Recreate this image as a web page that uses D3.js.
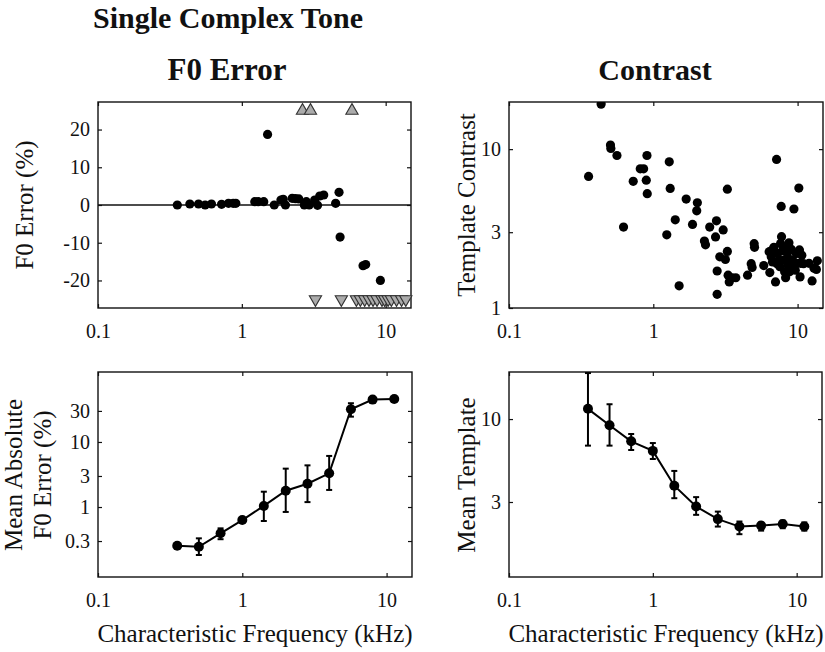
<!DOCTYPE html>
<html>
<head>
<meta charset="utf-8">
<script src="https://cdn.jsdelivr.net/npm/d3@7"></script>
<style>
  body { margin: 0; background: #fff; }
  text { font-family: "Liberation Serif", "DejaVu Serif", serif; fill: #111; }
</style>
</head>
<body>
<svg id="chart" width="825" height="652"></svg>
<script>
// ---- data ----
// top left: F0 error per unit
var errCF = [0.356, 0.435, 0.50, 0.556, 0.615, 0.723, 0.808, 0.871, 0.908, 1.23, 1.30, 1.42, 1.51, 1.68,
             1.87, 1.94, 2.01, 2.24, 2.36, 2.49, 2.72, 2.81, 2.94, 3.21, 3.36, 3.48, 3.71, 4.49, 4.74, 4.82,
             6.96, 7.26, 9.19]
var errVal = [0, 0.27, 0.27, 0, 0.27, 0.18, 0.44, 0.44, 0.44, 0.88, 0.88, 0.88, 18.7, 0,
              1.33, 1.5, 0, 1.77, 1.68, 1.6, 0, 0.88, 0, 1.33, -0.09, 2.39, 2.65, 0.44, 3.36, -8.5,
              -16.1, -15.8, -20.0]
// units whose error is off the scale (plotted as triangles at the edge)
var overCF = [2.64, 3.0, 5.83]
var underCF = [3.25, 4.92, 6.26, 6.67, 7.15, 7.66, 8.17, 8.71, 9.43, 9.84, 10.4, 10.96, 11.9, 12.9, 13.8]

// top right: template contrast per unit
var conCF = [0.435, 0.356, 0.505, 0.508, 0.56, 0.622, 0.726, 0.812, 0.857, 0.894, 0.904, 0.908,
             1.24, 1.29, 1.31, 1.42, 1.51, 1.69, 1.87, 2.0, 2.02, 2.26, 2.30, 2.46, 2.70, 2.74, 2.77, 2.77,
             2.89, 3.05, 3.16, 3.26, 3.26, 3.30, 3.36, 3.52, 3.73, 4.50, 4.77, 4.84, 5.0, 5.03, 5.83,
             6.35, 6.42, 6.57, 6.70, 6.85, 7.03, 7.15, 7.30, 7.54, 7.62, 7.70, 7.74, 7.96, 8.13, 8.26,
             8.48, 8.57, 8.71, 8.80, 9.04, 9.23, 9.43, 9.64, 9.95, 10.2, 10.3, 10.4, 10.5, 10.7, 12.0,
             12.6, 13.0, 13.5, 13.7, 6.6, 7.4, 7.9, 8.6, 9.2, 7.2, 8.0, 9.8, 11.0]
var conVal = [19.2, 6.73, 10.6, 10.1, 9.12, 3.23, 6.27, 7.52, 7.52, 6.38, 9.12, 5.24,
              2.89, 8.32, 5.66, 3.59, 1.38, 4.85, 3.36, 4.09, 4.59, 2.64, 2.50, 3.23, 2.80, 3.54, 1.71, 1.22,
              2.10, 3.10, 2.02, 5.60, 2.27, 1.61, 1.46, 1.55, 1.55, 1.61, 1.90, 1.80, 2.54, 2.41, 1.85,
              2.26, 1.67, 2.10, 1.95, 2.41, 1.46, 8.61, 2.21, 1.82, 2.55, 4.36, 2.81, 2.00, 1.69, 1.55,
              2.21, 1.86, 2.57, 1.69, 2.34, 2.00, 4.20, 1.73, 1.91, 5.69, 2.32, 1.57, 1.91, 2.15, 1.91,
              1.48, 1.78, 1.75, 1.98, 2.3, 2.0, 2.3, 2.05, 1.8, 1.9, 2.4, 2.2, 1.9]

// bottom: binned means (octave bins)
var binCF = [0.354, 0.5, 0.707, 1, 1.41, 2, 2.83, 4, 5.66, 8, 11.3]
var meanErr = [0.254, 0.245, 0.394, 0.63, 1.04, 1.78, 2.28, 3.3, 31.8, 44.8, 45.9]
var meanErrLo = [0.254, 0.183, 0.32, 0.60, 0.61, 0.84, 1.19, 1.83, 24.5, 44.8, 45.9]
var meanErrHi = [0.254, 0.33, 0.47, 0.66, 1.72, 3.89, 4.37, 6.1, 39.4, 44.8, 45.9]
var meanCon = [11.6, 9.13, 7.24, 6.3, 3.8, 2.81, 2.34, 2.10, 2.13, 2.18, 2.10]
var meanConLo = [6.8, 6.8, 6.38, 5.6, 3.17, 2.49, 2.10, 1.88, 1.98, 2.05, 1.98]
var meanConHi = [19.5, 12.4, 8.05, 7.06, 4.71, 3.22, 2.61, 2.26, 2.23, 2.29, 2.23]

var xTicks = [0.1, 1, 10]

var svg = d3.select("#chart")

function fmt(d) { return String(d) }

function panel(o) {
  var x = d3.scaleLog().domain([0.1, 15]).range([o.x0, o.x1])
  var y = (o.log ? d3.scaleLog() : d3.scaleLinear()).domain(o.ydom).range([o.y1, o.y0])
  var g = svg.append("g")
  var id = "clip" + o.name
  svg.append("clipPath").attr("id", id).append("rect")
     .attr("x", o.x0 - 6).attr("y", o.y0).attr("width", o.x1 - o.x0 + 12).attr("height", o.y1 - o.y0)

  var ax = function(a) {
    a.selectAll(".domain").remove()
    a.selectAll(".tick line").attr("stroke", "#111").attr("stroke-width", 1.2)
    a.selectAll("text").style("font-size", "20px").attr("fill", "#222")
  }
  g.append("g").attr("transform", "translate(0," + o.y1 + ")")
    .call(d3.axisBottom(x).tickValues(xTicks).tickSize(-4).tickPadding(16).tickFormat(fmt)).call(ax)
  g.append("g").attr("transform", "translate(0," + o.y0 + ")")
    .call(d3.axisTop(x).tickValues(xTicks).tickSize(-4).tickFormat("")).call(ax)
  g.append("g").attr("transform", "translate(" + o.x0 + ",0)")
    .call(d3.axisLeft(y).tickValues(o.yticks).tickSize(-4).tickPadding(8).tickFormat(fmt)).call(ax)
  g.append("g").attr("transform", "translate(" + o.x1 + ",0)")
    .call(d3.axisRight(y).tickValues(o.yticks).tickSize(-4).tickFormat("")).call(ax)

  g.append("rect").attr("x", o.x0).attr("y", o.y0)
    .attr("width", o.x1 - o.x0).attr("height", o.y1 - o.y0)
    .attr("fill", "none").attr("stroke", "#111").attr("stroke-width", 1.4)

  var plot = svg.append("g").attr("clip-path", "url(#" + id + ")")
  return {x: x, y: y, g: g, plot: plot}
}

// rotated axis title; cx is the baseline of the first line
function yLabel(lines, cx, cy) {
  var t = svg.append("text").attr("transform", "translate(" + cx + "," + cy + ") rotate(-90)")
    .attr("text-anchor", "middle").style("font-size", "25px")
  lines.forEach(function(s, i) {
    t.append("tspan").attr("x", 0).attr("dy", i == 0 ? 0 : "1.16em").text(s)
  })
}

// titles
svg.append("text").attr("x", 93).attr("y", 28).style("font-size", "30px").style("font-weight", "bold")
   .text("Single Complex Tone")
svg.append("text").attr("x", 227).attr("y", 80).attr("text-anchor", "middle")
   .style("font-size", "31px").style("font-weight", "bold").text("F0 Error")
svg.append("text").attr("x", 655).attr("y", 80).attr("text-anchor", "middle")
   .style("font-size", "30px").style("font-weight", "bold").text("Contrast")

// ---- top left ----
var p1 = panel({name: "a", x0: 98, x1: 411, y0: 102, y1: 308, ydom: [-27.3, 27.3], yticks: [-20, -10, 0, 10, 20]})
p1.plot.append("line").attr("x1", 98).attr("x2", 411).attr("y1", p1.y(0)).attr("y2", p1.y(0))
  .attr("stroke", "#111").attr("stroke-width", 1.4)
var tri = d3.symbol().type(d3.symbolTriangle).size(65)
p1.plot.selectAll(".up").data(overCF).enter().append("path")
  .attr("d", tri).attr("transform", function(d) { return "translate(" + p1.x(d) + "," + p1.y(25) + ")" })
  .attr("fill", "#ababab").attr("stroke", "#333").attr("stroke-width", 1.1)
p1.plot.selectAll(".dn").data(underCF).enter().append("path")
  .attr("d", tri).attr("transform", function(d) { return "translate(" + p1.x(d) + "," + p1.y(-25) + ") rotate(180)" })
  .attr("fill", "#ababab").attr("stroke", "#333").attr("stroke-width", 1.1)
p1.plot.selectAll("circle").data(errCF).enter().append("circle")
  .attr("cx", function(d) { return p1.x(d) })
  .attr("cy", function(d, i) { return p1.y(errVal[i]) })
  .attr("r", 4.6).attr("fill", "#000")
yLabel(["F0 Error (%)"], 33, 205)

// ---- top right ----
var p2 = panel({name: "b", x0: 509, x1: 823, y0: 102, y1: 308, log: true, ydom: [1, 19.8], yticks: [1, 3, 10]})
p2.plot.selectAll("circle").data(conCF).enter().append("circle")
  .attr("cx", function(d) { return p2.x(d) })
  .attr("cy", function(d, i) { return p2.y(conVal[i]) })
  .attr("r", 4.6).attr("fill", "#000")
yLabel(["Template Contrast"], 475, 205)

// ---- bottom panels ----
function meanPlot(p, vals, lo, hi) {
  var line = d3.line().x(function(d) { return p.x(d) }).y(function(d, i) { return p.y(vals[i]) })
  p.plot.append("path").datum(binCF).attr("d", line)
    .attr("fill", "none").attr("stroke", "#000").attr("stroke-width", 2)
  var eb = p.plot.selectAll(".eb").data(binCF).enter().append("g")
  eb.append("line").attr("x1", function(d) { return p.x(d) }).attr("x2", function(d) { return p.x(d) })
    .attr("y1", function(d, i) { return p.y(lo[i]) }).attr("y2", function(d, i) { return p.y(hi[i]) })
    .attr("stroke", "#000").attr("stroke-width", 2)
  ;[lo, hi].forEach(function(arr) {
    eb.append("line").attr("x1", function(d) { return p.x(d) - 3 }).attr("x2", function(d) { return p.x(d) + 3 })
      .attr("y1", function(d, i) { return p.y(arr[i]) }).attr("y2", function(d, i) { return p.y(arr[i]) })
      .attr("stroke", "#000").attr("stroke-width", 2)
  })
  p.plot.selectAll(".pt").data(binCF).enter().append("circle")
    .attr("cx", function(d) { return p.x(d) })
    .attr("cy", function(d, i) { return p.y(vals[i]) })
    .attr("r", 5).attr("fill", "#000")
}

var p3 = panel({name: "c", x0: 98, x1: 412, y0: 372, y1: 577, log: true, ydom: [0.084, 119], yticks: [0.3, 1, 3, 10, 30]})
meanPlot(p3, meanErr, meanErrLo, meanErrHi)
yLabel(["Mean Absolute", "F0 Error (%)"], 22, 475)

var p4 = panel({name: "d", x0: 509, x1: 822, y0: 372, y1: 577, log: true, ydom: [1.01, 19.8], yticks: [3, 10]})
meanPlot(p4, meanCon, meanConLo, meanConHi)
yLabel(["Mean Template"], 475, 475)

// x labels
;[255, 666].forEach(function(cx) {
  svg.append("text").attr("x", cx).attr("y", 642).attr("text-anchor", "middle")
    .style("font-size", "25px").text("Characteristic Frequency (kHz)")
})
</script>
</body>
</html>
